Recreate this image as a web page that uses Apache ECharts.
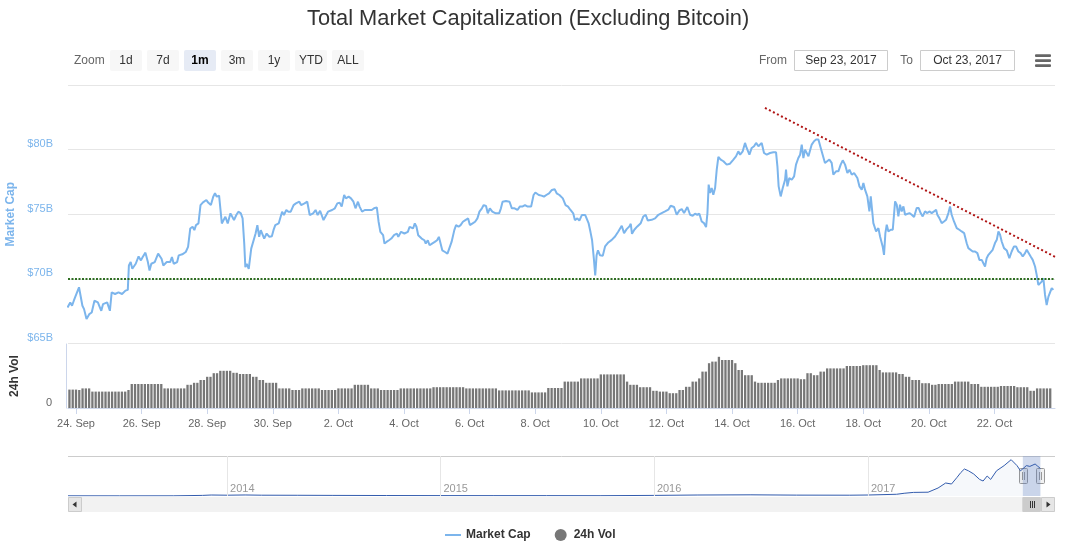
<!DOCTYPE html>
<html><head><meta charset="utf-8">
<script src="https://cdn.jsdelivr.net/npm/echarts@6/dist/echarts.min.js"></script>
<style>html,body{margin:0;padding:0;background:#fff}#c{width:1073px;height:548px}</style>
</head><body><div id="c"></div>
<script>
// ---------- DATA ----------
const titleText = 'Total Market Capitalization (Excluding Bitcoin)';
// hours since 24 Sep 2017 00:00 UTC
const capHours = [
-6.2,-4.2,-2.9,-1.6,-0.4,0.9,2.2,3.4,4.7,5.9,
7.7,9.7,11.5,13.5,16.0,18.5,19.8,21.1,22.8,24.8,
26.1,28.6,31.1,33.7,36.2,37.9,38.7,40.0,41.2,43.7,
45.8,47.5,48.8,50.8,52.6,53.8,55.1,57.6,60.1,62.6,
63.9,66.4,68.9,70.2,71.5,74.0,75.2,77.8,80.3,82.0,
83.6,85.3,86.6,87.8,89.6,91.1,92.9,95.4,96.7,98.7,
100.4,101.7,103.0,104.7,106.7,108.0,109.3,111.0,113.0,114.3,
115.6,117.3,118.8,120.6,121.9,123.1,123.9,124.9,126.4,128.2,
129.4,131.4,132.7,134.0,135.2,136.5,137.7,139.5,141.5,143.3,
144.5,145.8,148.3,149.6,150.8,152.1,153.9,155.4,157.1,159.2,
160.9,163.4,164.7,167.2,169.2,171.0,173.5,175.3,176.8,178.6,
179.8,181.1,182.3,184.4,187.4,189.4,191.2,192.9,194.4,196.2,
197.5,199.5,201.2,203.0,204.5,206.3,207.5,209.3,211.3,212.6,
214.6,216.4,218.1,220.1,221.4,222.7,224.7,225.7,227.2,229.0,
230.7,232.7,234.8,235.8,237.8,240.3,242.8,244.1,245.3,246.6,
247.9,249.1,250.4,252.9,254.9,255.9,257.4,258.7,260.5,262.5,
264.2,265.5,266.8,268.0,270.0,271.8,273.1,274.8,276.8,278.1,
279.9,281.4,283.1,284.9,286.9,288.2,290.2,292.0,293.7,295.2,
297.0,298.3,300.0,301.3,302.8,304.6,307.1,309.6,310.9,312.1,
314.6,317.2,318.9,320.9,323.0,324.7,326.5,328.5,330.5,333.0,
334.8,336.1,338.6,340.6,342.4,344.1,346.1,348.2,350.2,351.7,
353.7,356.2,358.2,360.0,361.8,363.8,365.0,366.8,368.3,370.1,
372.6,373.9,375.1,376.4,377.6,378.9,379.9,380.9,381.9,383.4,
385.4,387.1,389.5,392.0,394.4,396.8,399.3,401.0,402.9,404.9,
405.9,406.8,408.5,410.7,413.2,415.1,416.8,418.3,421.2,423.7,
426.1,428.5,431.0,433.4,435.1,437.6,439.5,441.5,443.2,444.9,
447.3,449.3,451.2,452.9,454.6,456.1,457.8,459.5,461.0,462.0,
462.9,463.9,465.1,466.3,467.6,468.8,470.0,471.7,473.7,476.1,
478.5,481.0,482.9,484.6,485.9,487.8,489.5,490.7,492.7,494.4,
496.1,497.6,499.3,501.7,503.4,505.4,507.8,510.2,512.2,513.2,
514.1,515.6,517.1,518.8,519.5,520.5,521.9,523.7,525.4,526.8,
528.5,529.8,531.0,532.2,533.4,534.6,535.9,537.1,538.3,540.0,
541.5,543.2,544.9,546.3,548.0,549.3,551.2,552.9,554.1,556.1,
557.8,559.5,561.0,562.7,564.4,565.9,567.6,569.3,570.7,571.7,
573.2,574.9,576.1,577.3,579.0,580.5,581.5,582.2,583.4,585.4,
587.1,588.3,590.2,591.2,592.2,593.2,594.4,596.1,597.6,598.5,
599.3,600.5,601.7,602.9,604.1,605.4,606.6,607.8,609.8,611.5,
613.2,615.1,616.6,618.0,619.5,621.2,622.9,624.4,626.1,627.8,
629.3,630.2,631.7,633.4,635.1,636.6,638.3,639.5,640.7,642.4,
644.4,646.3,648.0,649.8,651.7,652.9,654.1,656.1,657.8,659.5,
661.0,662.7,663.9,665.1,666.3,667.6,668.8,670.7,672.4,673.7,
674.9,676.1,677.3,679.0,681.0,682.9,684.6,686.3,687.8,689.5,
691.2,692.7,694.4,695.6,696.8,698.5,700.0,701.7,702.9,704.1,
705.4,706.6,707.8,709.0,710.2,711.5,712.7,713.9,715.1
];
// Market Cap, billions USD
const capValues = [
67.79,68.18,67.92,68.31,68.65,68.57,69.35,69.43,67.92,67.66,
66.89,67.27,67.40,68.31,68.18,67.53,68.05,67.92,68.18,67.53,
68.96,68.83,68.96,68.83,69.09,69.15,71.04,71.30,70.78,71.17,
71.74,71.43,71.69,72.03,71.30,70.65,71.17,71.30,71.95,71.56,
71.04,71.30,71.30,71.69,71.17,71.30,71.82,71.90,72.08,72.47,
73.90,74.03,73.77,74.16,74.29,75.71,75.92,76.10,75.90,75.71,
76.36,76.62,76.36,76.44,74.29,74.55,74.81,74.29,75.07,74.94,
74.55,74.94,75.20,75.07,74.68,72.73,70.91,71.17,70.78,72.34,
72.47,73.51,74.16,73.25,73.77,73.90,73.12,73.51,73.25,73.30,
73.77,74.16,74.29,74.42,75.20,74.94,75.33,75.20,75.20,75.71,
75.84,75.97,75.71,75.84,75.97,74.94,75.07,75.33,74.94,75.27,
75.20,74.55,74.68,75.20,75.33,75.46,75.84,75.90,75.59,76.49,
76.23,76.36,76.23,75.97,75.46,75.97,75.59,75.20,75.33,75.20,
75.33,75.33,75.46,75.53,74.42,73.64,73.38,72.73,72.86,72.99,
73.12,73.38,73.51,73.25,73.64,73.51,73.64,74.03,74.16,73.90,
74.29,74.03,73.38,73.12,72.99,72.73,72.99,72.60,72.73,72.86,
72.99,73.25,73.38,72.21,72.08,71.95,71.82,72.86,73.77,74.16,
74.03,74.16,74.42,74.55,74.68,74.16,74.29,74.42,74.68,75.20,
75.46,75.71,75.64,75.07,75.46,75.20,75.07,75.07,75.46,75.97,
76.03,75.97,75.46,75.46,75.33,75.59,75.59,75.71,75.59,75.59,
76.49,76.68,76.49,76.44,76.36,76.49,76.62,76.88,76.94,76.62,
76.49,76.23,75.71,75.59,75.33,75.07,74.55,74.68,74.50,74.94,
74.94,74.81,74.29,73.64,72.99,71.56,70.26,71.82,72.21,71.82,
71.78,72.51,72.82,73.02,73.28,73.67,74.11,73.54,73.85,74.06,
74.26,73.49,73.80,74.06,74.31,74.83,74.96,74.52,74.57,74.68,
74.96,75.09,75.22,75.35,75.66,75.56,74.96,75.30,75.40,75.09,
75.56,74.96,74.88,75.04,74.96,75.04,74.44,74.31,74.01,75.09,
77.29,76.64,77.03,76.51,77.03,78.45,79.43,79.23,79.10,78.84,
78.91,79.23,79.48,79.87,79.61,79.87,80.52,80.13,79.61,80.13,
80.26,80.52,80.26,80.52,79.74,79.61,79.74,79.79,79.79,78.71,
77.16,76.38,77.03,77.67,78.45,77.16,77.80,77.67,77.93,78.84,
79.35,79.61,80.39,79.35,80.00,80.00,79.48,79.48,80.39,80.65,
80.78,80.78,80.13,79.61,78.97,79.10,79.23,78.97,78.06,78.32,
78.32,78.84,79.17,78.84,78.19,78.45,78.06,78.19,78.32,77.80,
77.16,76.90,77.42,76.90,76.38,75.22,76.38,76.51,74.31,73.67,
73.93,73.28,72.51,71.86,73.54,74.19,73.67,73.80,73.80,74.96,
75.99,75.74,74.83,75.74,75.22,75.61,74.96,74.83,75.09,74.96,
74.78,75.48,75.48,75.09,74.83,75.22,75.09,75.22,75.09,75.22,
75.35,74.96,74.70,74.31,74.44,74.57,75.09,75.61,74.96,74.44,
73.93,73.80,73.67,73.54,72.76,72.38,72.51,72.12,72.12,71.99,
71.47,71.47,71.21,70.96,71.60,71.86,71.73,72.25,72.77,73.02,
73.67,73.41,72.89,72.38,72.20,71.60,72.12,72.51,72.51,72.12,
71.99,71.73,71.99,72.25,72.12,71.73,71.47,70.96,70.31,69.53,
69.53,69.79,70.05,68.76,67.98,68.63,68.76,69.28,69.15
];
// 24h volume bars, billions USD, one bar every volStepHours starting at volStartHour
const volStartHour = -4.8, volStepHours = 2.4;
const volValues = [
2.3,2.3,2.3,2.25,2.45,2.45,2.45,2.05,2.05,2.05,
2.05,2.05,2.05,2.05,2.05,2.05,2.05,2.05,2.25,3.0,
3.0,3.0,3.0,3.0,3.0,3.0,3.0,3.0,3.0,2.45,
2.45,2.45,2.45,2.45,2.45,2.45,2.9,2.9,3.15,3.15,
3.5,3.5,3.9,3.9,4.35,4.35,4.65,4.65,4.65,4.65,
4.4,4.4,4.25,4.25,4.25,4.25,3.9,3.9,3.5,3.5,
3.15,3.15,3.15,3.15,2.45,2.45,2.45,2.45,2.25,2.25,
2.25,2.45,2.45,2.45,2.45,2.45,2.45,2.25,2.25,2.25,
2.25,2.25,2.45,2.45,2.45,2.45,2.45,2.9,2.9,2.9,
2.9,2.9,2.45,2.45,2.45,2.25,2.25,2.25,2.25,2.25,
2.25,2.45,2.45,2.45,2.45,2.45,2.45,2.45,2.45,2.45,
2.45,2.6,2.6,2.6,2.6,2.6,2.6,2.6,2.6,2.6,
2.6,2.45,2.45,2.45,2.45,2.45,2.45,2.45,2.45,2.45,
2.45,2.2,2.2,2.2,2.2,2.2,2.2,2.2,2.2,2.2,
2.2,1.95,1.95,1.95,1.95,1.95,2.5,2.5,2.5,2.5,
2.5,3.3,3.3,3.3,3.3,3.3,3.7,3.7,3.7,3.7,
3.7,3.7,4.2,4.2,4.2,4.2,4.2,4.2,4.2,4.2,
3.3,2.9,2.9,2.9,2.6,2.6,2.6,2.6,2.15,2.15,
2.05,2.05,2.05,1.85,1.85,1.85,2.25,2.25,2.65,2.65,
3.3,3.3,3.7,4.55,4.55,5.6,5.8,5.8,6.4,6.0,
6.0,6.0,6.0,5.6,4.75,4.75,4.1,4.1,4.1,3.3,
3.15,3.15,3.15,3.15,3.15,3.15,3.5,3.7,3.7,3.7,
3.7,3.7,3.7,3.6,3.6,4.35,4.35,4.1,4.1,4.55,
4.55,4.95,4.95,4.95,4.95,4.95,4.95,5.25,5.25,5.25,
5.25,5.25,5.35,5.35,5.35,5.35,5.35,4.75,4.45,4.45,
4.45,4.45,4.45,4.25,4.25,3.9,3.9,3.5,3.5,3.5,
3.1,3.1,3.1,2.9,2.9,3.0,3.0,3.0,3.0,3.0,
3.3,3.3,3.3,3.3,3.3,3.0,3.0,3.0,2.65,2.65,
2.65,2.65,2.65,2.65,2.75,2.75,2.75,2.75,2.75,2.6,
2.6,2.6,2.6,2.15,2.15,2.45,2.45,2.45,2.45,2.45
];
const axisStartHour = -5.85, axisEndHour = 716.3;
const xTickDates = ['2017-09-24','2017-09-26','2017-09-28','2017-09-30','2017-10-02','2017-10-04','2017-10-06',
  '2017-10-08','2017-10-10','2017-10-12','2017-10-14','2017-10-16','2017-10-18','2017-10-20','2017-10-22'];
const monthNames = ['Jan','Feb','Mar','Apr','May','Jun','Jul','Aug','Sep','Oct','Nov','Dec'];
const supportLevel = 70;              // green dotted line ($B)
const trendHours = [504.1, 720.7];    // red dotted trend line
const trendValues = [83.23, 71.47];
// navigator (full history)
const navDates = ['2013-04-04','2013-07-01','2013-10-01','2013-11-20','2013-12-05','2014-01-01','2014-02-01','2014-03-01',
  '2014-05-01','2014-07-01','2014-10-01','2015-01-01','2015-04-01','2015-07-01','2015-10-01','2016-01-01','2016-03-15',
  '2016-06-15','2016-09-01','2016-12-01','2017-01-01','2017-02-19','2017-03-04','2017-03-20','2017-04-14','2017-05-01',
  '2017-05-14','2017-05-24','2017-06-02','2017-06-09','2017-06-15','2017-06-22','2017-07-01','2017-07-11','2017-07-17',
  '2017-07-24','2017-07-30','2017-08-09','2017-08-22','2017-09-03','2017-09-13','2017-09-19','2017-09-23','2017-09-29',
  '2017-10-05','2017-10-14','2017-10-18','2017-10-23'];
const navValues = [0.5,0.4,0.5,1.5,2.5,2.0,2.6,2.0,
  1.8,1.5,1.2,1.0,0.9,0.9,0.8,1.5,2.5,
  3.0,2.2,2.0,2.5,4.3,6.8,9.0,9.5,20,
  32.5,30,45.8,58.8,67.5,63,55,41.5,37.5,
  50,41.5,63,76,90.8,76,63,68,76,
  74,80,75,69];
const navStart = '2013-04-04', navEnd = '2017-11-17';
const navYears = ['2014-01-01','2015-01-01','2016-01-01','2017-01-01'];
const selectionRange = ['2017-09-23','2017-10-23'];
const rangeButtons = ['1d','7d','1m','3m','1y','YTD','ALL'];
const selectedButton = '1m';
const fromDate = 'Sep 23, 2017', toDate = 'Oct 23, 2017';

// ---------- BUILD ----------
const FONT = '"Liberation Sans", Arial, Helvetica, sans-serif';
const base = Date.UTC(2017, 8, 24);
const toTs = h => base + h * 3600000;
const dayTs = s => Date.parse(s + 'T00:00:00Z');
const n = Math.min(capHours.length, capValues.length);
const capData = [];
for (let i = 0; i < n; i++) capData.push([toTs(capHours[i]), capValues[i]]);
const volData = volValues.map((v, i) => [toTs(volStartHour + i * volStepHours), v]);
const trendData = trendHours.map((h, i) => [toTs(h), trendValues[i]]);
const navData = navDates.map((d, i) => [dayTs(d), navValues[i]]);
const xMin = toTs(axisStartHour), xMax = toTs(axisEndHour);
const tickTs = xTickDates.map(dayTs);
const yearTs = navYears.map(dayTs);
const fmtDay = v => { const d = new Date(v); return d.getUTCDate() + '. ' + monthNames[d.getUTCMonth()]; };

const chart = echarts.init(document.getElementById('c'), null, {renderer: 'canvas'});
const option = {
  animation: false,
  textStyle: {fontFamily: FONT},
  title: {text: titleText, left: 302, top: 3,
    textStyle: {fontSize: 21.8, fontWeight: 'normal', color: '#333333', fontFamily: FONT}},
  legend: {
    data: [{name: 'Market Cap', icon: 'path://M0,0H16V2H0Z'}, {name: '24h Vol', icon: 'circle'}],
    left: 440, top: 524, itemWidth: 16, itemHeight: 12, itemGap: 24, selectedMode: false,
    textStyle: {fontSize: 12, fontWeight: 'bold', color: '#333333', fontFamily: FONT}
  },
  grid: [
    {left: 68, right: 18, top: 85, height: 258.5, outerBoundsMode: 'none'},
    {left: 68, right: 18, top: 344, height: 64, outerBoundsMode: 'none'},
    {left: 68, right: 18, top: 456, height: 40, outerBoundsMode: 'none'}
  ],
  xAxis: [
    {type: 'value', gridIndex: 0, min: xMin, max: xMax, axisLine: {show: false}, axisTick: {show: false},
      axisLabel: {show: false}, splitLine: {show: false}},
    {type: 'value', gridIndex: 1, min: xMin, max: xMax,
      axisLine: {show: true, onZero: false, lineStyle: {color: '#ccd6eb'}},
      axisTick: {show: true, length: 6, lineStyle: {color: '#ccd6eb'}, customValues: tickTs},
      axisLabel: {customValues: tickTs, formatter: fmtDay, color: '#666666', fontSize: 11, margin: 10, fontFamily: FONT},
      splitLine: {show: false}},
    {type: 'value', gridIndex: 2, min: dayTs(navStart), max: dayTs(navEnd),
      axisLine: {show: false}, axisTick: {show: false}, splitLine: {show: false},
      axisLabel: {inside: true, customValues: yearTs, formatter: v => String(new Date(v).getUTCFullYear()),
        color: '#999999', fontSize: 11, align: 'left', margin: 2, padding: [0, 0, 0, 3], fontFamily: FONT}}
  ],
  yAxis: [
    {type: 'value', gridIndex: 0, min: 65, max: 85, interval: 5,
      axisLine: {show: false}, axisTick: {show: false},
      axisLabel: {formatter: v => v === 85 ? '' : '$' + v + 'B', color: '#7cb5ec', fontSize: 11, margin: 15,
        verticalAlign: 'bottom', fontFamily: FONT},
      splitLine: {lineStyle: {color: '#e6e6e6'}},
      name: 'Market Cap', nameLocation: 'middle', nameGap: 48,
      nameTextStyle: {color: '#7cb5ec', fontWeight: 'bold', fontSize: 12, fontFamily: FONT}},
    {type: 'value', gridIndex: 1, min: 0, max: 8, interval: 8, offset: 2,
      axisLine: {show: true, onZero: false, lineStyle: {color: '#ccd6eb'}}, axisTick: {show: false},
      axisLabel: {formatter: v => v === 0 ? '0' : '', color: '#666666', fontSize: 11, margin: 14,
        verticalAlign: 'bottom', fontFamily: FONT},
      splitLine: {show: false},
      name: '24h Vol', nameLocation: 'middle', nameGap: 45,
      nameTextStyle: {color: '#333333', fontWeight: 'bold', fontSize: 12, fontFamily: FONT}},
    {type: 'value', gridIndex: 2, min: 0, max: 100, show: false}
  ],
  series: [
    {name: 'Market Cap', type: 'line', xAxisIndex: 0, yAxisIndex: 0, data: capData, symbol: 'none',
      lineStyle: {color: '#7cb5ec', width: 2}, itemStyle: {color: '#7cb5ec'}, z: 3,
      markLine: {silent: true, symbol: ['none', 'none'], label: {show: false},
        lineStyle: {color: '#2f6e22', type: [2, 1.5], width: 2}, data: [{yAxis: supportLevel}]}},
    {name: 'Trend', type: 'line', xAxisIndex: 0, yAxisIndex: 0, data: trendData, symbol: 'none', clip: false,
      lineStyle: {color: '#b01515', type: [2, 2.5], width: 2}, z: 4, silent: true},
    {name: '24h Vol', type: 'bar', xAxisIndex: 1, yAxisIndex: 1, data: volData, barWidth: 2.3,
      itemStyle: {color: '#777777'}},
    {name: 'Navigator', type: 'line', xAxisIndex: 2, yAxisIndex: 2, data: navData, symbol: 'none',
      lineStyle: {color: '#335cad', width: 1}, areaStyle: {color: 'rgba(51,92,173,0.06)'}, silent: true,
      markLine: {silent: true, symbol: ['none', 'none'], label: {show: false},
        lineStyle: {color: '#e6e6e6', type: 'solid', width: 1}, data: yearTs.map(t => ({xAxis: t}))},
      markArea: {silent: true, itemStyle: {color: 'rgba(102,133,194,0.3)'},
        data: [[{xAxis: dayTs(selectionRange[0])}, {xAxis: dayTs(selectionRange[1])}]]}}
  ]
};
chart.setOption(option);

// ---------- UI chrome (range selector, inputs, navigator handles, scrollbar) ----------
const g = [];
const txt = (x, y, t, opt) => g.push({type: 'text', silent: true, style: Object.assign({x, y, text: t,
  align: 'left', verticalAlign: 'middle', fill: '#333333', fontSize: 12, fontFamily: FONT}, opt || {})});
txt(74, 61, 'Zoom', {fill: '#666666'});
rangeButtons.forEach((b, i) => {
  const x = 110 + i * 37, sel = b === selectedButton;
  g.push({type: 'rect', silent: true, shape: {x, y: 50, width: 32, height: 21, r: 2},
    style: {fill: sel ? '#e6ebf5' : '#f7f7f7'}});
  txt(x + 16, 61, b, {align: 'center', fill: sel ? '#000000' : '#333333', fontWeight: sel ? 'bold' : 'normal'});
});
txt(787, 61, 'From', {align: 'right', fill: '#666666'});
g.push({type: 'rect', silent: true, shape: {x: 794.5, y: 50.5, width: 93, height: 20}, style: {fill: '#fff', stroke: '#cccccc', lineWidth: 1}});
txt(841, 61, fromDate, {align: 'center'});
txt(913, 61, 'To', {align: 'right', fill: '#666666'});
g.push({type: 'rect', silent: true, shape: {x: 920.5, y: 50.5, width: 94, height: 20}, style: {fill: '#fff', stroke: '#cccccc', lineWidth: 1}});
txt(967.5, 61, toDate, {align: 'center'});
[54.3, 59.3, 64.3].forEach(y => g.push({type: 'rect', silent: true, shape: {x: 1035, y, width: 16, height: 2.8, r: 1}, style: {fill: '#666666'}}));

// navigator outline + scrollbar
g.push({type: 'line', silent: true, shape: {x1: 68, y1: 456.5, x2: 1055, y2: 456.5}, style: {stroke: '#cccccc', lineWidth: 1}});
g.push({type: 'rect', silent: true, shape: {x: 68, y: 497, width: 987, height: 15}, style: {fill: '#f2f2f2'}});
g.push({type: 'rect', silent: true, shape: {x: 68.5, y: 497.5, width: 13, height: 14}, style: {fill: '#e6e6e6', stroke: '#cccccc', lineWidth: 1}});
g.push({type: 'polygon', silent: true, shape: {points: [[76.5, 501.5], [76.5, 507.5], [72.5, 504.5]]}, style: {fill: '#333333'}});
g.push({type: 'rect', silent: true, shape: {x: 1041.5, y: 497.5, width: 13, height: 14}, style: {fill: '#e6e6e6', stroke: '#cccccc', lineWidth: 1}});
g.push({type: 'polygon', silent: true, shape: {points: [[1046.5, 501.5], [1046.5, 507.5], [1050.5, 504.5]]}, style: {fill: '#333333'}});

const xs = chart.convertToPixel({xAxisIndex: 2}, dayTs(selectionRange[0]));
const xe = chart.convertToPixel({xAxisIndex: 2}, dayTs(selectionRange[1]));
g.push({type: 'rect', silent: true, shape: {x: xs, y: 497.5, width: Math.max(xe - xs, 10), height: 14}, style: {fill: '#cccccc', stroke: '#cccccc', lineWidth: 1}});
const cx = (xs + Math.max(xe, xs + 10)) / 2;
[-2, 0, 2].forEach(d => g.push({type: 'line', silent: true, shape: {x1: Math.round(cx + d) + 0.5, y1: 501, x2: Math.round(cx + d) + 0.5, y2: 508}, style: {stroke: '#333333', lineWidth: 1}}));
[xs, xe].forEach(hx => {
  g.push({type: 'rect', silent: true, shape: {x: Math.round(hx) - 3.5, y: 468.5, width: 8, height: 15, r: 1}, style: {fill: '#f2f2f2', stroke: '#999999', lineWidth: 1}});
  g.push({type: 'line', silent: true, shape: {x1: Math.round(hx) - 0.5, y1: 472, x2: Math.round(hx) - 0.5, y2: 480}, style: {stroke: '#999999', lineWidth: 1}});
  g.push({type: 'line', silent: true, shape: {x1: Math.round(hx) + 1.5, y1: 472, x2: Math.round(hx) + 1.5, y2: 480}, style: {stroke: '#999999', lineWidth: 1}});
});
chart.setOption({graphic: g});
</script>
</body></html>
